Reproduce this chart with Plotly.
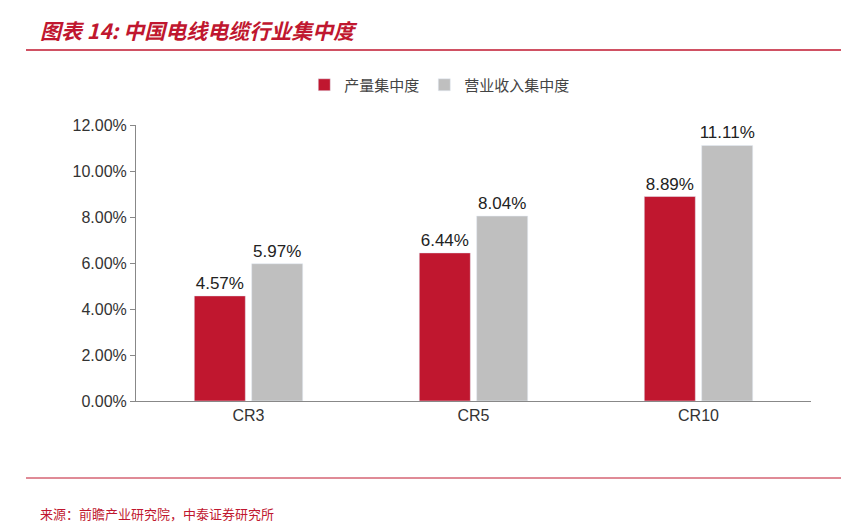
import plotly.graph_objects as go

categories = ["CR3", "CR5", "CR10"]
output_share = [4.57, 6.44, 8.89]
revenue_share = [5.97, 8.04, 11.11]
series_names = ["产量集中度", "营业收入集中度"]
tick_vals = [0, 2, 4, 6, 8, 10, 12]
tick_text = ["0.00%", "2.00%", "4.00%", "6.00%", "8.00%", "10.00%", "12.00%"]

font = "Noto Sans CJK SC"
fig = go.Figure()
for name, vals, col in [(series_names[0], output_share, "#C0172F"), (series_names[1], revenue_share, "#BFBFBF")]:
    fig.add_trace(go.Bar(x=categories, y=vals, name=name, marker_color=col,
                         text=[f"{v:.2f}%" for v in vals], textposition="outside",
                         constraintext="none",
                         textfont=dict(size=17, color="#222", family="Liberation Sans"),
                         cliponaxis=False))

W, H = 865, 528
l, r, t, b = 128, 62, 117, 135
ph = H - t - b
pw = W - l - r
def py(p): return (H - b - p) / ph
def px(p): return (p - l) / pw

fig.update_layout(
    width=W, height=H, margin=dict(l=l, r=r, t=t, b=b),
    plot_bgcolor="white", paper_bgcolor="white",
    barmode="group", bargap=0.49, bargroupgap=0.11,
    font=dict(family=font, color="#222"),
    legend=dict(orientation="h", x=0.45, xanchor="center", y=py(77), yanchor="middle",
                font=dict(size=15, color="#444")),
    yaxis=dict(range=[0, 12], tickvals=tick_vals, ticktext=tick_text, showgrid=False,
               showline=True, linecolor="#888", ticks="outside", tickcolor="#888",
               tickfont=dict(size=16, family="Liberation Sans", color="#333")),
    xaxis=dict(showline=True, linecolor="#888", ticks="", tickfont=dict(size=16, family="Liberation Sans", color="#333")),
    shapes=[
        dict(type="line", xref="paper", yref="paper", x0=px(18), x1=px(833), y0=py(42), y1=py(42),
             line=dict(color="#C0172F", width=1.5)),
        dict(type="line", xref="paper", yref="paper", x0=px(18), x1=px(833), y0=py(470), y1=py(470),
             line=dict(color="#C0172F", width=1)),
    ],
    annotations=[
        dict(text="<b><i>图表 14: 中国电线电缆行业集中度</i></b>", xref="paper", yref="paper",
             x=px(30), y=py(22), xanchor="left", yanchor="middle", showarrow=False,
             font=dict(size=21, color="#C0172F")),
        dict(text="来源：前瞻产业研究院，中泰证券研究所", xref="paper", yref="paper",
             x=px(30), y=py(505), xanchor="left", yanchor="middle", showarrow=False,
             font=dict(size=13, color="#C0172F")),
    ],
)
fig.write_html("out.html")
